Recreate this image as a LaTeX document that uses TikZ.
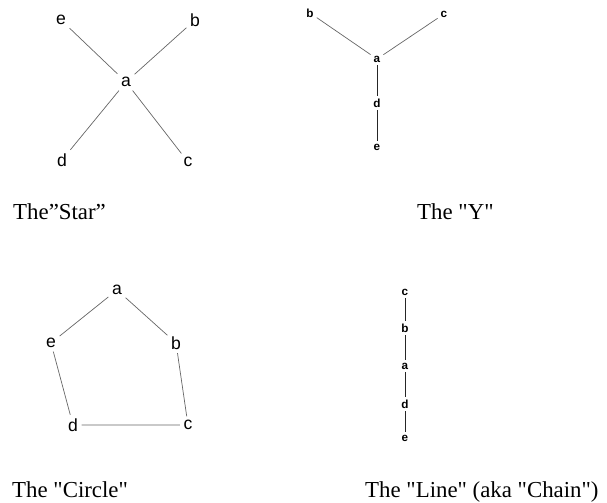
\documentclass[tikz,border=0pt]{standalone}
\usepackage{fontspec}
\setmainfont{Liberation Serif}
\newfontfamily\lettersf{Liberation Sans}
\usetikzlibrary{positioning}

\begin{document}
\begin{tikzpicture}[
    x=0.03cm, y=-0.03cm,
    vertex/.style={inner sep=3pt, font=\lettersf\fontsize{15}{15}\selectfont},
    smallvertex/.style={inner sep=2.5pt, font=\lettersf\bfseries\fontsize{10}{10}\selectfont},
    edge/.style={draw=black!60, line width=0.6pt},
    darkedge/.style={draw=black!85, line width=0.6pt},
    caption/.style={anchor=base west, inner sep=0pt, font=\fontsize{19.5}{19.5}\selectfont}
]

\useasboundingbox (0,0) rectangle (607,503);

% De ster
\node[vertex] (sa) at (126,82)  {a};
\node[vertex] (sb) at (195,20)  {b};
\node[vertex] (sc) at (188,162) {c};
\node[vertex] (sd) at (62,160)  {d};
\node[vertex] (se) at (61,20)   {e};
\foreach \v in {sb,sc,sd,se}
    \draw[edge] (sa) -- (\v);

% De Y
\node[smallvertex] (ya) at (377,59)  {a};
\node[smallvertex] (yb) at (310,13)  {b};
\node[smallvertex] (yc) at (444,14)  {c};
\node[smallvertex] (yd) at (377,103) {d};
\node[smallvertex] (ye) at (377,147) {e};
\draw[edge] (ya) -- (yb);
\draw[edge] (ya) -- (yc);
\draw[darkedge] (ya) -- (yd);
\draw[darkedge] (yd) -- (ye);

% De cirkel
\node[vertex] (ca) at (117,290) {a};
\node[vertex] (cb) at (176,343) {b};
\node[vertex] (cc) at (188,425) {c};
\node[vertex] (cd) at (73,425)  {d};
\node[vertex] (ce) at (51,343)  {e};
\draw[edge] (ca) -- (cb) -- (cc) -- (cd) -- (ce) -- (ca);

% De lijn
\node[smallvertex] (lc) at (405,292) {c};
\node[smallvertex] (lb) at (405,328) {b};
\node[smallvertex] (la) at (405,366) {a};
\node[smallvertex] (ld) at (405,404) {d};
\node[smallvertex] (le) at (405,438) {e};
\draw[darkedge] (lc) -- (lb) -- (la) -- (ld) -- (le);

% Onderschriften
\node[caption] (capstar)   at (13,219)  {The”Star”};
\node[caption] (capy)      at (417,219) {The \textquotedbl Y\textquotedbl};
\node[caption] (capcircle) at (12,497)  {The \textquotedbl Circle\textquotedbl};
\node[caption] (capline)   at (365,497) {The \textquotedbl Line\textquotedbl\ (aka \textquotedbl Chain\textquotedbl)};

\end{tikzpicture}
\end{document}
